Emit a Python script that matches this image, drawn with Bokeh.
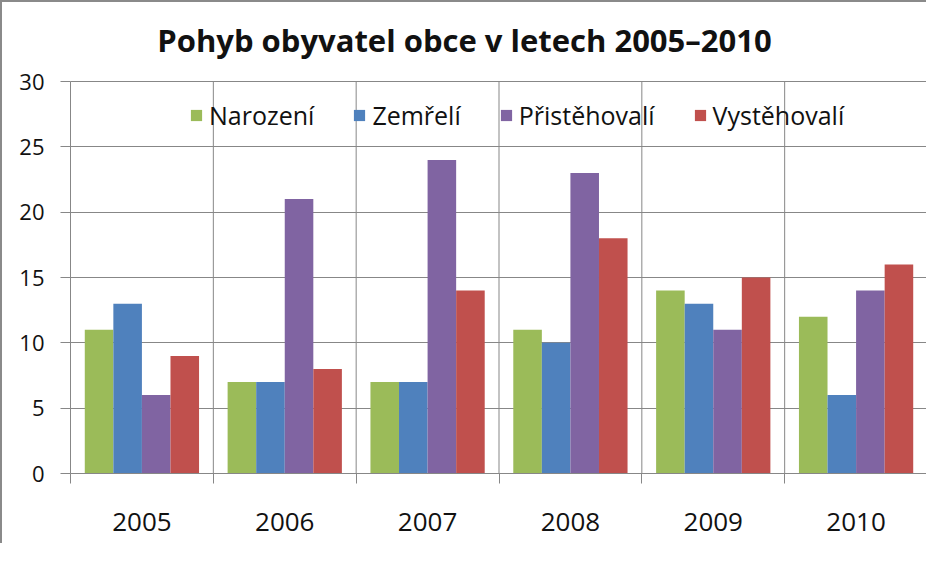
from bokeh.plotting import figure
from bokeh.models import (ColumnDataSource, Range1d, FixedTicker, Legend, LegendItem, Label)
from bokeh.transform import dodge
from bokeh.embed import file_html
from bokeh.resources import INLINE

# ---- data ----
years = ["2005", "2006", "2007", "2008", "2009", "2010"]
series_names = ["Narození", "Zemřelí", "Přistěhovalí", "Vystěhovalí"]
narozeni = [11, 7, 7, 11, 14, 12]
zemreli = [13, 7, 7, 10, 13, 6]
pristehovali = [6, 21, 24, 23, 11, 14]
vystehovali = [9, 8, 14, 18, 15, 16]
y_ticks = [0, 5, 10, 15, 20, 25, 30]
title_text = "Pohyb obyvatel obce v letech 2005–2010"

colors = ["#9BBB59", "#4F81BD", "#8064A2", "#C0504D"]
GRID = "#878787"
FONT = "Open Sans"

# layout (pixels): value area height and the space above it kept for the title
AREA_H = 392
TOP_PAD = 79
y_min, y_max = y_ticks[0], y_ticks[-1]
y_end = y_max + TOP_PAD * (y_max - y_min) / AREA_H

centers = [i + 0.5 for i in range(len(years))]
bounds = [i for i in range(len(years) + 1)]

source = ColumnDataSource(dict(
    center=centers,
    narozeni=narozeni,
    zemreli=zemreli,
    pristehovali=pristehovali,
    vystehovali=vystehovali,
))

p = figure(width=926, height=543, title=None,
           x_range=Range1d(0, len(years)), y_range=Range1d(y_min, y_end),
           output_backend="svg", toolbar_location=None,
           min_border_left=68, min_border_right=1, min_border_top=0, min_border_bottom=72)
p.styles = {"border-left": "2px solid #8a8a8a", "border-top": "2px solid #8a8a8a"}

p.outline_line_color = None
p.background_fill_color = "white"
p.border_fill_color = "white"

# category separators (vertical lines) limited to the value area
sep = ColumnDataSource(dict(x=bounds, y0=[y_min] * len(bounds), y1=[y_max] * len(bounds)))
p.segment(x0="x", y0="y0", x1="x", y1="y1", source=sep, line_color=GRID, line_width=1)

fields = ["narozeni", "zemreli", "pristehovali", "vystehovali"]
offsets = [-0.3, -0.1, 0.1, 0.3]
renderers = []
for f, off, c in zip(fields, offsets, colors):
    r = p.vbar(x=dodge("center", off, range=p.x_range), top=f, bottom=0, width=0.2,
               source=source, fill_color=c, line_color=None)
    renderers.append(r)

# grids
p.xgrid.visible = False
p.ygrid.ticker = FixedTicker(ticks=y_ticks)
p.ygrid.grid_line_color = GRID
p.ygrid.grid_line_width = 1

# y axis
p.yaxis.ticker = FixedTicker(ticks=y_ticks)
p.yaxis.bounds = (y_min, y_max)
p.yaxis.axis_line_color = GRID
p.yaxis.major_tick_line_color = GRID
p.yaxis.major_tick_out = 10
p.yaxis.major_tick_in = 0
p.yaxis.minor_tick_line_color = None
p.yaxis.major_label_standoff = 16
p.yaxis.major_label_text_font = FONT
p.yaxis.major_label_text_font_size = "22px"
p.yaxis.major_label_text_color = "#111111"

# x axis
p.xaxis.ticker = FixedTicker(ticks=centers, minor_ticks=bounds)
p.xaxis.major_label_overrides = {c: y for c, y in zip(centers, years)}
p.xaxis.axis_line_color = GRID
p.xaxis.major_tick_line_color = None
p.xaxis.major_tick_out = 0
p.xaxis.major_tick_in = 0
p.xaxis.minor_tick_line_color = GRID
p.xaxis.minor_tick_out = 10
p.xaxis.minor_tick_in = 0
p.xaxis.major_label_standoff = 29
p.xaxis.major_label_text_font = FONT
p.xaxis.major_label_text_font_size = "26px"
p.xaxis.major_label_text_color = "#111111"

# title (screen units relative to the plot frame)
title = Label(text=title_text, x=394, y=434, x_units="screen", y_units="screen",
              text_align="center", text_baseline="middle",
              text_font=FONT, text_font_size="31px", text_font_style="bold",
              text_color="#111111")
p.add_layout(title)

# legend
legend = Legend(items=[LegendItem(label=n, renderers=[r]) for n, r in zip(series_names, renderers)],
                orientation="horizontal", location=(119, 341),
                glyph_width=14, glyph_height=14, label_standoff=6, spacing=38,
                padding=0, margin=0,
                label_text_font=FONT, label_text_font_size="25px", label_text_color="#111111",
                border_line_color=None, background_fill_alpha=0)
p.add_layout(legend)

open("out.html", "w").write(file_html(p, INLINE))
